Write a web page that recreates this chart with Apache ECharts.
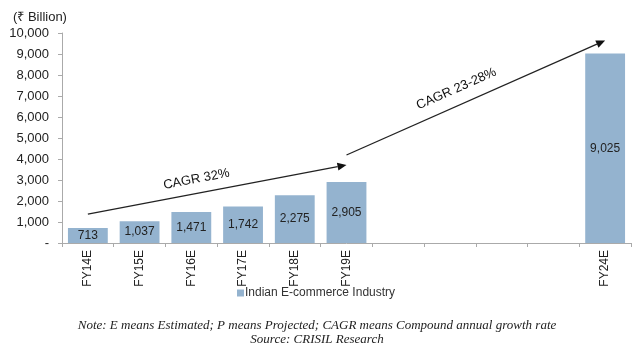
<!DOCTYPE html>
<html><head><meta charset="utf-8">
<script src="https://cdn.jsdelivr.net/npm/echarts@6/dist/echarts.min.js"></script>
<style>html,body{margin:0;padding:0;background:#fff}#c{width:634px;height:355px}</style>
</head><body><div id="c"></div>
<script>
const categories = ['FY14E','FY15E','FY16E','FY17E','FY18E','FY19E','','','','','FY24E'];
const values = [713,1037,1471,1742,2275,2905,null,null,null,null,9025];
const yTicks = [0,1000,2000,3000,4000,5000,6000,7000,8000,9000,10000];
const seriesName = 'Indian E-commerce Industry';
const unitLabel = '(₹ Billion)';
const noteLine = 'Note: E means Estimated; P means Projected; CAGR means Compound annual growth rate';
const sourceLine = 'Source: CRISIL Research';
// annotation arrows in data space: [categoryIndex, value]
const arrows = [
  {from:[0,1380], to:[5.17,3714], text:'CAGR 32%', t:0.43, off:14},
  {from:[5.0,4190], to:[9.93,9640], text:'CAGR 23-28%', t:0.45, off:16}
];

const chart = echarts.init(document.getElementById('c'));
const fmt = v => v === 0 ? '-' : v.toLocaleString('en-US');
chart.setOption({
  animation:false,
  grid:{left:62, right:3, top:33, bottom:112},
  title:[
    {text:unitLabel, left:8, top:6, textStyle:{fontFamily:'Liberation Sans', fontSize:13, fontWeight:'normal', color:'#222'}},
    {text:noteLine, left:'center', top:314, textStyle:{fontFamily:'Liberation Serif', fontSize:13, fontStyle:'italic', fontWeight:'normal', color:'#222'}},
    {text:sourceLine, left:'center', top:328, textStyle:{fontFamily:'Liberation Serif', fontSize:13, fontStyle:'italic', fontWeight:'normal', color:'#222'}}
  ],
  legend:{left:232, top:282, itemWidth:7, itemHeight:7, itemGap:4, icon:'rect',
    textStyle:{fontFamily:'Liberation Sans', fontSize:12, color:'#333', padding:[0,0,0,-4]},
    data:[seriesName]},
  xAxis:{type:'category', data:categories,
    axisLine:{lineStyle:{color:'#aaa'}},
    axisTick:{show:true, length:4, lineStyle:{color:'#aaa'}},
    axisLabel:{rotate:90, margin:7, fontFamily:'Liberation Sans', fontSize:12, color:'#222', interval:0}},
  yAxis:{type:'value', min:0, max:10000, interval:1000,
    splitLine:{show:false},
    axisLine:{show:true, lineStyle:{color:'#aaa'}},
    axisTick:{show:true, length:4, lineStyle:{color:'#aaa'}},
    axisLabel:{margin:13, fontFamily:'Liberation Sans', fontSize:13, color:'#222',
      formatter: v => yTicks.includes(v) ? fmt(v) : ''}},
  series:[{name:seriesName, type:'bar', data:values, barWidth:'77%',
    itemStyle:{color:'#94b3cf'},
    label:{show:true, position:'inside', fontFamily:'Liberation Sans', fontSize:12, color:'#222',
      formatter:p => fmt(p.value)}}]
});

function buildGraphics(){
  const g = [];
  arrows.forEach(a => {
    const p1 = chart.convertToPixel({gridIndex:0}, a.from);
    const p2 = chart.convertToPixel({gridIndex:0}, a.to);
    const dx = p2[0]-p1[0], dy = p2[1]-p1[1];
    const len = Math.hypot(dx,dy), ux = dx/len, uy = dy/len;
    const hl = 9, hw = 4;
    const bx = p2[0]-ux*hl, by = p2[1]-uy*hl;
    g.push({type:'line', shape:{x1:p1[0], y1:p1[1], x2:bx, y2:by}, style:{stroke:'#222', lineWidth:1.3}});
    g.push({type:'polygon', shape:{points:[[p2[0],p2[1]],[bx-uy*hw, by+ux*hw],[bx+uy*hw, by-ux*hw]]}, style:{fill:'#111'}});
    const mx = p1[0]+dx*a.t, my = p1[1]+dy*a.t;
    const nx = uy, ny = -ux;
    const tx = mx + nx*a.off*(ny<0?1:-1), ty = my + ny*a.off*(ny<0?1:-1);
    g.push({type:'text', x:tx, y:ty, rotation:-Math.atan2(dy,dx),
      style:{text:a.text, fontFamily:'Liberation Sans', fontSize:13, fill:'#111', align:'center', verticalAlign:'middle'}});
  });
  chart.setOption({graphic:g});
}
buildGraphics();
</script></body></html>
